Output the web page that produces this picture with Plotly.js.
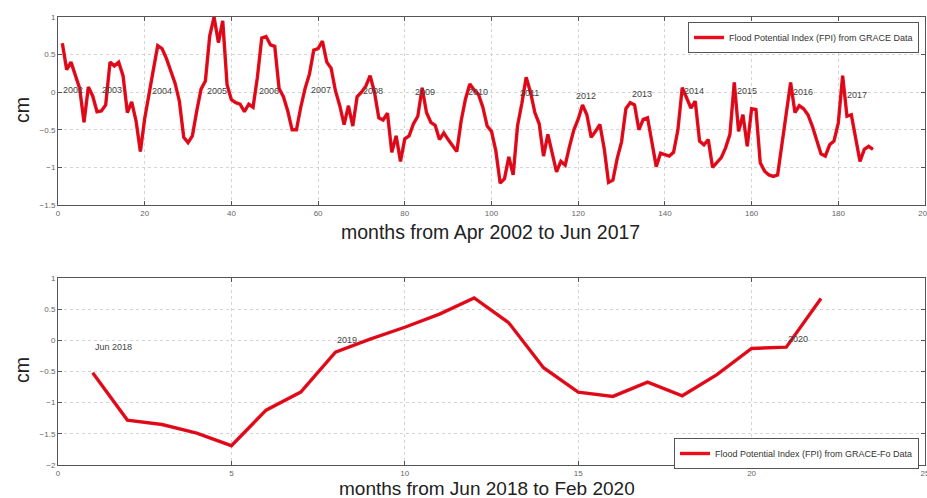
<!DOCTYPE html>
<html>
<head>
<meta charset="utf-8">
<script src="https://cdn.plot.ly/plotly-3.0.1.min.js"></script>
<style>
  html, body { margin: 0; padding: 0; background: #fff; }
  #chart { width: 927px; height: 498px; }
</style>
</head>
<body>
<div id="chart"></div>
<script>
// GRACE monthly flood potential index, Apr 2002 - Jun 2017 (cm)
const graceFpi = [
  0.65, 0.30, 0.40, 0.24, 0.05, -0.40, 0.07, -0.05, -0.26, -0.25,
  -0.17, 0.40, 0.35, 0.40, 0.22, -0.27, -0.13, -0.38, -0.79, -0.35,
  -0.05, 0.30, 0.62, 0.58, 0.45, 0.30, 0.12, -0.12, -0.60, -0.67,
  -0.58, -0.25, 0.04, 0.15, 0.75, 1.00, 0.66, 0.95, 0.10, -0.10,
  -0.14, -0.16, -0.26, -0.16, -0.20, 0.20, 0.72, 0.74, 0.63, 0.61,
  0.05, -0.06, -0.25, -0.50, -0.50, -0.20, 0.05, 0.24, 0.56, 0.58,
  0.68, 0.40, 0.32, 0.02, -0.18, -0.43, -0.18, -0.45, -0.06, 0.00,
  0.08, 0.22, 0.00, -0.34, -0.37, -0.28, -0.80, -0.58, -0.92, -0.62,
  -0.58, -0.42, -0.32, 0.06, -0.27, -0.40, -0.44, -0.63, -0.54, -0.63,
  -0.72, -0.79, -0.38, -0.09, 0.11, 0.03, -0.03, -0.20, -0.45, -0.52,
  -0.78, -1.21, -1.15, -0.86, -1.10, -0.45, -0.15, 0.20, 0.00, -0.27,
  -0.42, -0.85, -0.56, -0.80, -1.06, -0.92, -0.97, -0.72, -0.50, -0.36,
  -0.17, -0.30, -0.60, -0.52, -0.43, -0.75, -1.20, -1.17, -0.88, -0.66,
  -0.22, -0.14, -0.17, -0.50, -0.36, -0.34, -0.65, -0.99, -0.81, -0.83,
  -0.85, -0.80, -0.50, 0.06, -0.08, -0.21, -0.12, -0.65, -0.70, -0.63,
  -1.00, -0.94, -0.87, -0.74, -0.56, 0.13, -0.52, -0.30, -0.72, -0.22,
  -0.23, -0.94, -1.05, -1.10, -1.12, -1.10, -0.70, -0.30, 0.13, -0.27,
  -0.18, -0.22, -0.30, -0.45, -0.62, -0.82, -0.85, -0.70, -0.65, -0.41,
  0.22, -0.32, -0.30, -0.62, -0.92, -0.76, -0.72, -0.76
];
const graceMonths = graceFpi.map((_, i) => i + 1);

// GRACE-FO monthly flood potential index, Jun 2018 - Feb 2020 (cm)
const graceFoMonths = [1, 2, 3, 4, 5, 6, 7, 8, 9, 10, 11, 12, 13, 14, 15, 16, 17, 18, 19, 20, 21, 22];
const graceFoFpi = [
  -0.52, -1.28, -1.35, -1.49, -1.69, -1.12, -0.83, -0.19, 0.02, 0.21, 0.42,
  0.68, 0.28, -0.44, -0.83, -0.90, -0.67, -0.89, -0.55, -0.13, -0.11, 0.67
];

// Year markers along the zero line
const yearLabels = ['2002', '2003', '2004', '2005', '2006', '2007', '2008', '2009',
                    '2010', '2011', '2012', '2013', '2014', '2015', '2016', '2017'];
const yearMonths = [0.6, 9.6, 21.3, 33.8, 45.8, 57.8, 70, 82, 94.2, 106, 119, 132, 144, 156.2, 169, 181.6];
const yearY = [0.03, 0.03, 0.02, 0.02, 0.02, 0.03, 0.01, 0.0, 0.0, -0.01, -0.05, -0.03, 0.02, 0.01, 0.0, -0.04];

const foLabels = ['Jun 2018', '2019', '2020'];
const foLabelX = [1, 8, 21];
const foLabelY = [-0.1, 0.0, 0.02];

const W = 927, H = 498;
const px = v => v / W;
const py = v => 1 - v / H;

const lineRed = 'rgb(236,12,28)';
const lineCore = 'rgb(150,10,20)';

const traces = [
  { x: graceMonths, y: graceFpi, type: 'scatter', mode: 'lines',
    name: 'Flood Potential Index (FPI) from GRACE Data',
    line: { color: lineRed, width: 3.4 }, xaxis: 'x', yaxis: 'y', legend: 'legend' },
  { x: graceMonths, y: graceFpi, type: 'scatter', mode: 'lines', showlegend: false,
    hoverinfo: 'skip', line: { color: lineCore, width: 0.8 }, opacity: 0.55, xaxis: 'x', yaxis: 'y' },
  { x: graceFoMonths, y: graceFoFpi, type: 'scatter', mode: 'lines',
    name: 'Flood Potential Index (FPI) from GRACE-Fo Data',
    line: { color: lineRed, width: 3.4 }, xaxis: 'x2', yaxis: 'y2', legend: 'legend2' },
  { x: graceFoMonths, y: graceFoFpi, type: 'scatter', mode: 'lines', showlegend: false,
    hoverinfo: 'skip', line: { color: lineCore, width: 0.8 }, opacity: 0.55, xaxis: 'x2', yaxis: 'y2' }
];

const tickFont = { family: 'Arial, Liberation Sans, sans-serif', size: 8, color: '#666' };
const axisCommon = {
  showline: true, linecolor: '#555', linewidth: 1, mirror: 'ticks',
  ticks: 'inside', ticklen: 4, tickcolor: '#555',
  showgrid: true, gridcolor: '#d4d4d4', griddash: 'dot', gridwidth: 1,
  zeroline: false, tickfont: tickFont, fixedrange: true, ticklabeloverflow: 'allow'
};

const smallFont = { family: 'Arial, sans-serif', size: 9, color: '#444' };
const annotations = [];
yearLabels.forEach((t, i) => annotations.push({
  x: yearMonths[i], y: yearY[i], xref: 'x', yref: 'y', text: t, showarrow: false,
  xanchor: 'left', yanchor: 'middle', font: smallFont
}));
foLabels.forEach((t, i) => annotations.push({
  x: foLabelX[i], y: foLabelY[i], xref: 'x2', yref: 'y2', text: t, showarrow: false,
  xanchor: 'left', yanchor: 'middle', font: smallFont
}));
const titleFont = { family: 'Arial, Liberation Sans, sans-serif', size: 19.5, color: '#222' };
annotations.push(
  { x: px(490), y: py(232), xref: 'paper', yref: 'paper', text: 'months from Apr 2002 to Jun 2017',
    showarrow: false, xanchor: 'center', yanchor: 'middle', font: titleFont },
  { x: px(487), y: py(488), xref: 'paper', yref: 'paper', text: 'months from Jun 2018 to Feb 2020',
    showarrow: false, xanchor: 'center', yanchor: 'middle', height: 18, valign: 'middle',
    font: Object.assign({}, titleFont, { size: 19 }) },
  { x: px(22), y: py(110), xref: 'paper', yref: 'paper', text: 'cm', textangle: -90,
    showarrow: false, xanchor: 'center', yanchor: 'middle', font: titleFont },
  { x: px(22), y: py(370), xref: 'paper', yref: 'paper', text: 'cm', textangle: -90,
    showarrow: false, xanchor: 'center', yanchor: 'middle', font: titleFont }
);

const legendStyle = {
  bgcolor: '#fff', bordercolor: '#555', borderwidth: 1,
  font: { family: 'Arial, sans-serif', size: 9, color: '#333' },
  xanchor: 'left', yanchor: 'top', itemwidth: 30, tracegroupgap: 0
};

const layout = {
  width: W, height: H,
  margin: { l: 0, r: 0, t: 0, b: 0 },
  paper_bgcolor: '#fff', plot_bgcolor: '#fff',
  showlegend: true,
  xaxis: Object.assign({}, axisCommon, { domain: [px(58), px(925)], range: [0, 200], dtick: 20, anchor: 'y' }),
  yaxis: Object.assign({}, axisCommon, { domain: [py(205), py(17)], range: [-1.5, 1], dtick: 0.5, anchor: 'x' }),
  xaxis2: Object.assign({}, axisCommon, { domain: [px(58), px(925)], range: [0, 25], dtick: 5, anchor: 'y2' }),
  yaxis2: Object.assign({}, axisCommon, { domain: [py(465), py(278)], range: [-2, 1], dtick: 0.5, anchor: 'x2' }),
  legend: Object.assign({}, legendStyle, { x: px(688), y: py(22) }),
  legend2: Object.assign({}, legendStyle, { x: px(674), y: py(438) }),
  annotations: annotations
};

Plotly.newPlot('chart', traces, layout, { staticPlot: true, displayModeBar: false });
</script>
</body>
</html>
